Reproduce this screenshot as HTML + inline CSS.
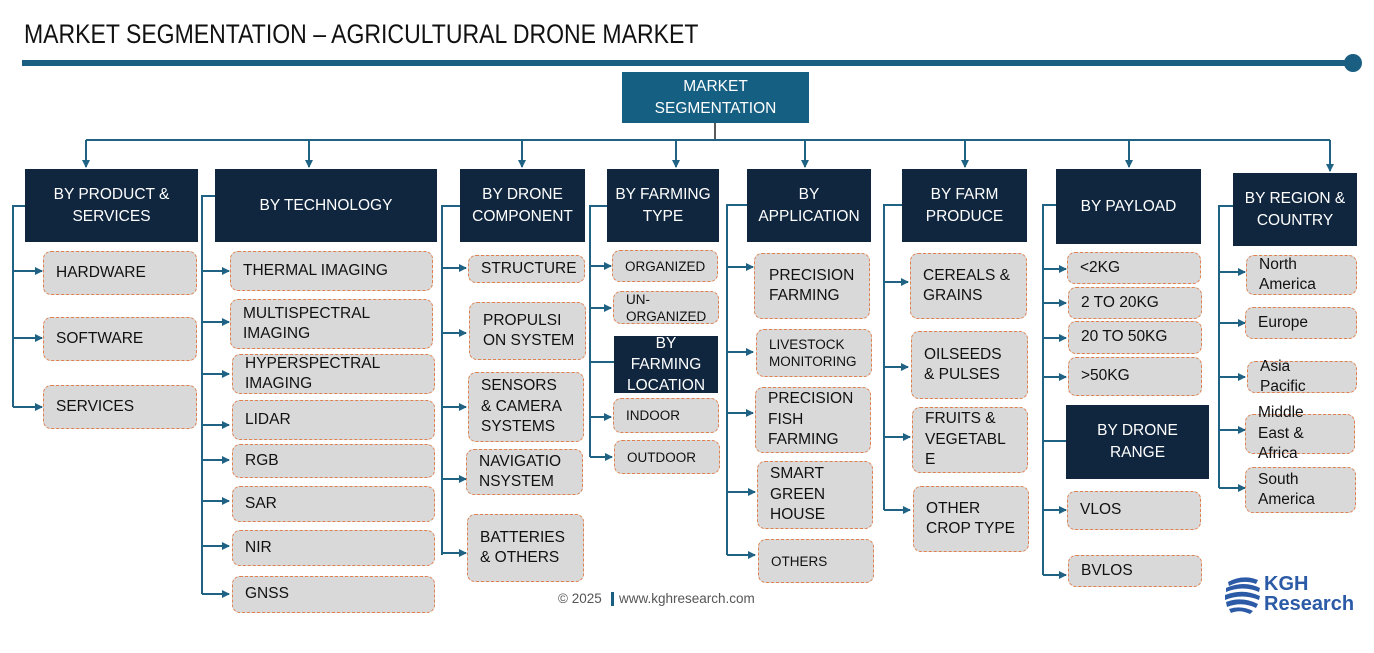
<!DOCTYPE html>
<html><head><meta charset="utf-8">
<style>
body{margin:0;width:1374px;height:653px;background:#fff;position:relative;overflow:hidden;font-family:"Liberation Sans",sans-serif}
.t{position:absolute;left:24px;top:19px;font-family:"Liberation Sans",sans-serif;font-size:27px;color:#111;white-space:nowrap;transform:scaleX(0.853);transform-origin:0 0}
.h{position:absolute;background:#10263f;color:#fff;font-size:15.5px;line-height:22px;display:flex;align-items:center;justify-content:center;text-align:center}
.i{position:absolute;background:#d9d9d9;border:1.3px dashed #e0804f;border-radius:8px;box-sizing:border-box;color:#111;font-size:15.5px;line-height:20.5px;display:flex;align-items:center;padding-left:12px;white-space:nowrap}
.s{font-size:13.5px;line-height:17px}
svg{position:absolute;left:0;top:0}
</style></head><body>
<div class="t">MARKET SEGMENTATION – AGRICULTURAL DRONE MARKET</div>
<svg width="1374" height="653">
<defs><marker id="a" markerWidth="8" markerHeight="8" refX="7" refY="4" orient="auto" markerUnits="userSpaceOnUse"><path d="M0,0 L8,4 L0,8 z" fill="#1f6283"/></marker></defs>
<rect x="22" y="60" width="1330" height="6" fill="#1a5e82"/>
<circle cx="1353" cy="63" r="9" fill="#1a5e82"/>
<g stroke="#1f6283" stroke-width="2" fill="none">
<line x1="715" y1="122" x2="715" y2="140" stroke="#222" stroke-width="1.5"/>
<line x1="86" y1="140" x2="1330" y2="140"/>
<g marker-end="url(#a)">
<line x1="86" y1="140" x2="86" y2="167"/><line x1="309" y1="140" x2="309" y2="167"/><line x1="522" y1="140" x2="522" y2="167"/><line x1="676" y1="140" x2="676" y2="167"/><line x1="805" y1="140" x2="805" y2="167"/><line x1="965" y1="140" x2="965" y2="167"/><line x1="1129" y1="140" x2="1129" y2="167"/><line x1="1330" y1="140" x2="1330" y2="171"/>
</g>
<polyline points="25,206 13,206 13,407"/>
<g marker-end="url(#a)"><line x1="13" y1="271" x2="42" y2="271"/><line x1="13" y1="338" x2="42" y2="338"/><line x1="13" y1="407" x2="42" y2="407"/></g>
<polyline points="215,196 202,196 202,594"/>
<g marker-end="url(#a)"><line x1="202" y1="271" x2="229" y2="271"/><line x1="202" y1="322" x2="229" y2="322"/><line x1="202" y1="374" x2="229" y2="374"/><line x1="202" y1="425" x2="229" y2="425"/><line x1="202" y1="460" x2="229" y2="460"/><line x1="202" y1="501" x2="229" y2="501"/><line x1="202" y1="546" x2="229" y2="546"/><line x1="202" y1="594" x2="229" y2="594"/></g>
<polyline points="460,206 442,206 442,555"/>
<g marker-end="url(#a)"><line x1="442" y1="268" x2="466" y2="268"/><line x1="442" y1="333" x2="466" y2="333"/><line x1="442" y1="407" x2="466" y2="407"/><line x1="442" y1="479" x2="466" y2="479"/><line x1="442" y1="553" x2="466" y2="553"/></g>
<polyline points="607,206 590,206 590,457"/>
<line x1="590" y1="362" x2="614" y2="362"/>
<g marker-end="url(#a)"><line x1="590" y1="266" x2="611" y2="266"/><line x1="590" y1="308" x2="611" y2="308"/><line x1="590" y1="417" x2="611" y2="417"/><line x1="590" y1="457" x2="612" y2="457"/></g>
<polyline points="747,205 727,205 727,555"/>
<g marker-end="url(#a)"><line x1="727" y1="267" x2="753" y2="267"/><line x1="727" y1="352" x2="753" y2="352"/><line x1="727" y1="413" x2="753" y2="413"/><line x1="727" y1="492" x2="755" y2="492"/><line x1="727" y1="555" x2="755" y2="555"/></g>
<polyline points="902,205 884,205 884,510"/>
<g marker-end="url(#a)"><line x1="884" y1="282" x2="908" y2="282"/><line x1="884" y1="367" x2="908" y2="367"/><line x1="884" y1="437" x2="910" y2="437"/><line x1="884" y1="510" x2="910" y2="510"/></g>
<polyline points="1056,205 1043,205 1043,575"/>
<line x1="1043" y1="441" x2="1066" y2="441"/>
<g marker-end="url(#a)"><line x1="1043" y1="269" x2="1066" y2="269"/><line x1="1043" y1="303" x2="1066" y2="303"/><line x1="1043" y1="338" x2="1066" y2="338"/><line x1="1043" y1="377" x2="1066" y2="377"/><line x1="1043" y1="510" x2="1066" y2="510"/><line x1="1043" y1="575" x2="1066" y2="575"/></g>
<polyline points="1233,206 1219,206 1219,488"/>
<g marker-end="url(#a)"><line x1="1219" y1="272" x2="1245" y2="272"/><line x1="1219" y1="323" x2="1245" y2="323"/><line x1="1219" y1="377" x2="1245" y2="377"/><line x1="1219" y1="430" x2="1245" y2="430"/><line x1="1219" y1="488" x2="1245" y2="488"/></g>
</g>
<rect x="611" y="592" width="3" height="14" fill="#1a5e82"/>
<g fill="#2b5aa6">
<path d="M1228,582 q15,-8 30,-2 l-2,4 q-13,-5 -27,2z"/>
<path d="M1226,588 q18,-8 34,0 l-1,4 q-16,-7 -33,0z"/>
<path d="M1225,595 q18,-7 35,1 l-1,4 q-17,-7 -34,0z"/>
<path d="M1226,602 q16,-6 32,2 l-2,4 q-14,-7 -29,-1z"/>
<path d="M1229,609 q12,-4 24,2 l-3,3 q-10,-5 -19,-1z"/>
</g>
</svg>
<div style="position:absolute;left:1264px;top:574px;color:#2b5aa6;font-weight:bold;font-size:20px;line-height:20px">KGH<br>Research</div>
<div style="position:absolute;left:558px;top:591px;font-size:13.5px;color:#555">© 2025</div>
<div style="position:absolute;left:619px;top:591px;font-size:13.5px;color:#555">www.kghresearch.com</div>

<div class="h" style="left:622px;top:72px;width:187px;height:51px;background:#155f82">MARKET<br>SEGMENTATION</div>

<div class="h" style="left:25px;top:169px;width:173px;height:73px">BY PRODUCT &amp;<br>SERVICES</div>
<div class="h" style="left:215px;top:169px;width:222px;height:73px">BY TECHNOLOGY</div>
<div class="h" style="left:460px;top:169px;width:125px;height:73px">BY DRONE<br>COMPONENT</div>
<div class="h" style="left:607px;top:169px;width:112px;height:73px">BY FARMING<br>TYPE</div>
<div class="h" style="left:747px;top:169px;width:124px;height:73px">BY<br>APPLICATION</div>
<div class="h" style="left:902px;top:169px;width:125px;height:73px">BY FARM<br>PRODUCE</div>
<div class="h" style="left:1056px;top:169px;width:145px;height:75px">BY PAYLOAD</div>
<div class="h" style="left:1233px;top:173px;width:124px;height:73px">BY REGION &amp;<br>COUNTRY</div>
<div class="h" style="left:614px;top:336px;width:104px;height:57px;overflow:visible;line-height:21px">BY<br>FARMING<br>LOCATION</div>
<div class="h" style="left:1066px;top:405px;width:143px;height:74px">BY DRONE<br>RANGE</div>

<div class="i" style="left:43px;top:251px;width:154px;height:44px">HARDWARE</div>
<div class="i" style="left:43px;top:317px;width:154px;height:44px">SOFTWARE</div>
<div class="i" style="left:43px;top:385px;width:154px;height:44px">SERVICES</div>

<div class="i" style="left:230px;top:251px;width:203px;height:40px">THERMAL IMAGING</div>
<div class="i" style="left:230px;top:299px;width:203px;height:50px">MULTISPECTRAL<br>IMAGING</div>
<div class="i" style="left:232px;top:354px;width:203px;height:40px">HYPERSPECTRAL<br>IMAGING</div>
<div class="i" style="left:232px;top:400px;width:203px;height:40px">LIDAR</div>
<div class="i" style="left:232px;top:444px;width:203px;height:34px">RGB</div>
<div class="i" style="left:232px;top:486px;width:203px;height:36px">SAR</div>
<div class="i" style="left:232px;top:530px;width:203px;height:36px">NIR</div>
<div class="i" style="left:232px;top:576px;width:203px;height:37px">GNSS</div>

<div class="i" style="left:468px;top:255px;width:117px;height:28px">STRUCTURE</div>
<div class="i" style="left:469px;top:302px;width:117px;height:58px;padding-left:13px">PROPULSI<br>ON SYSTEM</div>
<div class="i" style="left:468px;top:372px;width:116px;height:70px">SENSORS<br>&amp; CAMERA<br>SYSTEMS</div>
<div class="i" style="left:466px;top:449px;width:117px;height:46px">NAVIGATIO<br>NSYSTEM</div>
<div class="i" style="left:467px;top:514px;width:117px;height:68px">BATTERIES<br>&amp; OTHERS</div>

<div class="i s" style="left:612px;top:250px;width:106px;height:32px">ORGANIZED</div>
<div class="i s" style="left:613px;top:291px;width:106px;height:33px">UN-<br>ORGANIZED</div>
<div class="i s" style="left:613px;top:398px;width:106px;height:35px">INDOOR</div>
<div class="i s" style="left:614px;top:440px;width:106px;height:34px">OUTDOOR</div>

<div class="i" style="left:754px;top:253px;width:116px;height:66px;padding-left:14px">PRECISION<br>FARMING</div>
<div class="i s" style="left:756px;top:329px;width:116px;height:48px">LIVESTOCK<br>MONITORING</div>
<div class="i" style="left:755px;top:387px;width:116px;height:66px">PRECISION<br>FISH<br>FARMING</div>
<div class="i" style="left:757px;top:461px;width:116px;height:68px">SMART<br>GREEN<br>HOUSE</div>
<div class="i s" style="left:758px;top:539px;width:116px;height:44px">OTHERS</div>

<div class="i" style="left:910px;top:253px;width:117px;height:66px">CEREALS &amp;<br>GRAINS</div>
<div class="i" style="left:911px;top:331px;width:117px;height:68px">OILSEEDS<br>&amp; PULSES</div>
<div class="i" style="left:912px;top:407px;width:116px;height:66px;padding-left:12px">FRUITS &amp;<br>VEGETABL<br>E</div>
<div class="i" style="left:913px;top:486px;width:116px;height:66px">OTHER<br>CROP TYPE</div>

<div class="i" style="left:1067px;top:252px;width:134px;height:32px">&lt;2KG</div>
<div class="i" style="left:1068px;top:287px;width:134px;height:32px">2 TO 20KG</div>
<div class="i" style="left:1068px;top:321px;width:134px;height:33px">20 TO 50KG</div>
<div class="i" style="left:1068px;top:357px;width:134px;height:39px">&gt;50KG</div>
<div class="i" style="left:1067px;top:491px;width:134px;height:39px">VLOS</div>
<div class="i" style="left:1068px;top:555px;width:134px;height:32px">BVLOS</div>

<div class="i" style="left:1246px;top:255px;width:111px;height:40px">North<br>America</div>
<div class="i" style="left:1245px;top:307px;width:112px;height:32px">Europe</div>
<div class="i" style="left:1247px;top:361px;width:110px;height:32px">Asia<br>Pacific</div>
<div class="i" style="left:1245px;top:414px;width:110px;height:40px">Middle<br>East &amp;<br>Africa</div>
<div class="i" style="left:1245px;top:467px;width:111px;height:46px">South<br>America</div>
</body></html>
